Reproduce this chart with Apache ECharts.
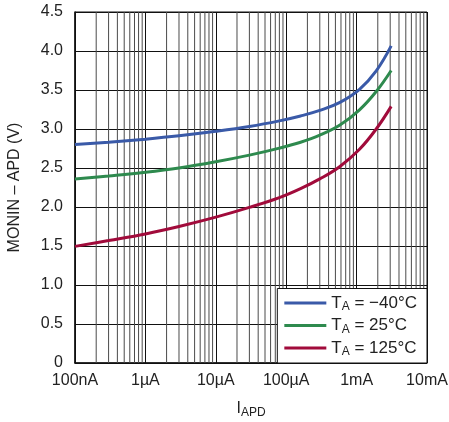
<!DOCTYPE html>
<html><head><meta charset="utf-8">
<script src="https://cdn.jsdelivr.net/npm/echarts@6/dist/echarts.min.js"></script>
<style>html,body{margin:0;padding:0;background:#fff}#c{width:449px;height:422px}</style>
</head><body><div id="c"></div>
<script>
const currents = [1e-7, 3e-7, 1e-6, 3e-6, 1e-5, 3e-5, 8e-5, 1.6e-4, 3e-4, 5.8e-4, 1.1e-3, 1.9e-3, 3.1e-3];
const vMinus40 = [2.80, 2.83, 2.87, 2.913, 2.97, 3.032, 3.104, 3.167, 3.238, 3.341, 3.508, 3.745, 4.065];
const v25      = [2.36, 2.398, 2.445, 2.50, 2.58, 2.665, 2.755, 2.83, 2.92, 3.05, 3.245, 3.48, 3.75];
const v125     = [1.495, 1.57, 1.655, 1.75, 1.87, 1.995, 2.12, 2.235, 2.36, 2.52, 2.74, 3.00, 3.29];
const seriesNames = ['−40°C', '25°C', '125°C'];
const xTickValues = [1e-7, 1e-6, 1e-5, 1e-4, 1e-3, 1e-2];
const xTickLabels = ['100nA', '1µA', '10µA', '100µA', '1mA', '10mA'];

const FONT = '"Liberation Sans Narrow", "Liberation Sans", Arial, sans-serif';
const colors = ['#3a5aa8', '#2e8a4e', '#a10b3b'];

// minor grid positions (2..9 x each decade) drawn as vertical segments
const minorVals = [];
for (let d = -7; d < -2; d++) for (let k = 2; k <= 9; k++) minorVals.push(k * Math.pow(10, d));
const minorSegs = [];
minorVals.forEach(v => { minorSegs.push([v, 0], [v, 4.5], [v, '-']); });

function pairs(ys) { return currents.map((x, i) => [x, ys[i]]); }
function labelFor(v) {
  for (let i = 0; i < xTickValues.length; i++) if (Math.abs(Math.log10(v) - Math.log10(xTickValues[i])) < 1e-6) return xTickLabels[i];
  return '';
}

const chart = echarts.init(document.getElementById('c'));
const dataSets = [vMinus40, v25, v125];
const series = [{
  name: 'grid', type: 'line', data: minorSegs, silent: true, symbol: 'none',
  connectNulls: false, lineStyle: { color: '#4a4a4a', width: 1 }, z: 1
}];
dataSets.forEach((ys, i) => series.push({
  name: seriesNames[i], type: 'line', data: pairs(ys), smooth: 0.4,
  symbol: 'none', lineStyle: { color: colors[i], width: 3 }, itemStyle: { color: colors[i] }, z: 5
}));

chart.setOption({
  animation: false,
  grid: { left: 75, right: 22, top: 12, bottom: 59, show: true, borderColor: '#111', borderWidth: 1,
    containLabel: false, outerBoundsMode: 'none' },
  xAxis: {
    type: 'log', logBase: 10, min: 1e-7, max: 1e-2,
    axisLine: { lineStyle: { color: '#111', width: 1.5 } },
    axisTick: { show: false },
    splitLine: { show: true, lineStyle: { color: '#111', width: 1 } },
    axisLabel: { fontFamily: FONT, fontSize: 16, color: '#222', margin: 10, formatter: labelFor, showMinLabel: true, showMaxLabel: true },
    name: '{m|I}{s|APD}', nameLocation: 'middle', nameGap: 36,
    nameTextStyle: { rich: { m: { fontFamily: FONT, fontSize: 16, color: '#222' }, s: { fontFamily: FONT, fontSize: 12, color: '#222', verticalAlign: 'bottom', padding: [8, 0, 0, 0] } } }
  },
  yAxis: {
    type: 'value', min: 0, max: 4.5, interval: 0.5,
    axisLine: { show: true, lineStyle: { color: '#111', width: 1.5 } },
    axisTick: { show: false },
    splitLine: { show: true, lineStyle: { color: '#111', width: 1 } },
    axisLabel: { fontFamily: FONT, fontSize: 16, color: '#222', margin: 12,
      formatter: v => v === 0 ? '0' : v.toFixed(1) },
    name: 'MONIN – APD (V)', nameLocation: 'middle', nameRotate: 90, nameGap: 52,
    nameTextStyle: { fontFamily: FONT, fontSize: 16, color: '#222' }
  },
  legend: {
    data: seriesNames, orient: 'vertical', right: 22, bottom: 59,
    backgroundColor: '#fff', borderColor: '#111', borderWidth: 1,
    padding: [6, 10, 5, 7], itemGap: 4, itemWidth: 42, itemHeight: 3, icon: 'rect',
    formatter: n => '{t|T}{s|A}{t| = ' + n + '}',
    textStyle: { rich: {
      t: { fontFamily: FONT, fontSize: 17, color: '#222' },
      s: { fontFamily: FONT, fontSize: 12, color: '#222', verticalAlign: 'bottom', padding: [8, 0, 0, 0] }
    } }
  },
  series
});
</script></body></html>
